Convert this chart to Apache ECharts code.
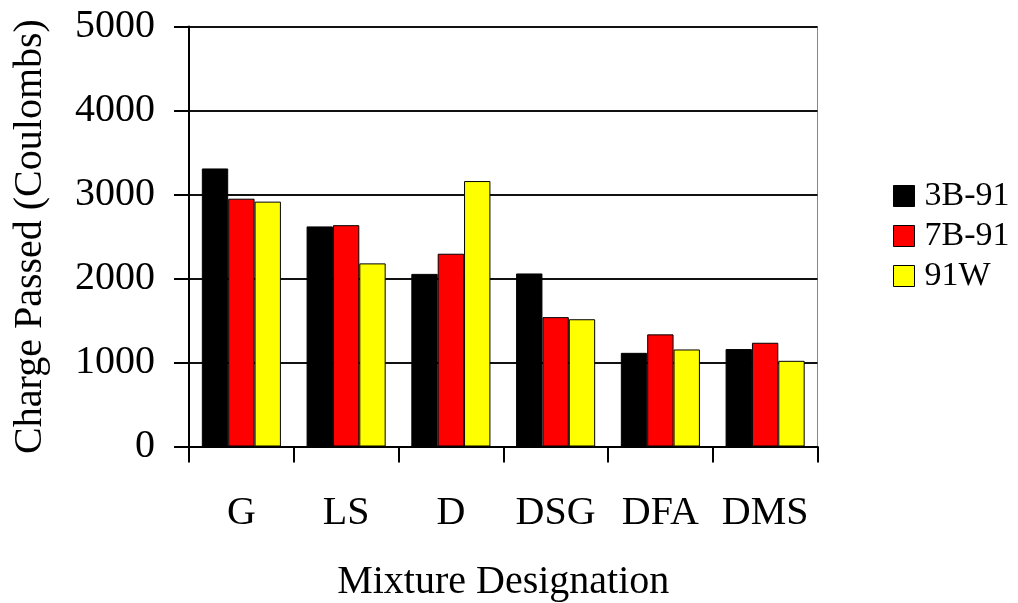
<!DOCTYPE html>
<html>
<head>
<meta charset="utf-8">
<script src="https://cdn.jsdelivr.net/npm/echarts@6/dist/echarts.min.js"></script>
<style>
  html, body { margin: 0; padding: 0; background: #fff; }
  #chart { width: 1018px; height: 603px; }
</style>
</head>
<body>
<div id="chart"></div>
<script>
// Rapid chloride permeability: charge passed per mixture and test series
const categories = ['G', 'LS', 'D', 'DSG', 'DFA', 'DMS'];
const series3B91 = [3310, 2620, 2055, 2060, 1115, 1160];
const series7B91 = [2950, 2635, 2295, 1540, 1335, 1235];
const series91W  = [2915, 2180, 3160, 1515, 1155, 1020];
const yTicks = [0, 1000, 2000, 3000, 4000, 5000];

const FONT = 'Liberation Serif';
const chart = echarts.init(document.getElementById('chart'), null, { renderer: 'canvas' });

function barSeries(name, data, color) {
  return {
    name: name,
    type: 'bar',
    data: data,
    barGap: '0%',
    barCategoryGap: '24.5%',
    itemStyle: { color: color, borderColor: '#000', borderWidth: 1 }
  };
}

chart.setOption({
  animation: false,
  backgroundColor: '#fff',
  textStyle: { fontFamily: FONT, color: '#000' },
  grid: {
    left: 189, right: 200.5, top: 26.5, bottom: 156.5,
    containLabel: false,
    outerBoundsMode: 'none',
    show: true, borderColor: '#888', borderWidth: 1, backgroundColor: 'transparent'
  },
  legend: {
    orient: 'vertical',
    left: 888,
    top: 174,
    itemWidth: 21,
    itemHeight: 21,
    itemGap: 6,
    icon: 'rect',
    itemStyle: { borderColor: '#000', borderWidth: 1 },
    textStyle: { fontFamily: FONT, fontSize: 34, color: '#000', padding: [0, 0, 0, 5] },
    data: ['3B-91', '7B-91', '91W']
  },
  xAxis: {
    type: 'category',
    data: categories,
    boundaryGap: true,
    name: 'Mixture Designation',
    nameLocation: 'middle',
    nameGap: 116,
    nameTextStyle: { fontFamily: FONT, fontSize: 40, color: '#000' },
    axisLine: { lineStyle: { color: '#000', width: 2 } },
    axisTick: { show: true, inside: false, length: 16, alignWithLabel: false, lineStyle: { color: '#000', width: 2 } },
    axisLabel: { fontFamily: FONT, fontSize: 40, color: '#000', margin: 47, interval: 0 },
    splitLine: { show: false }
  },
  yAxis: {
    type: 'value',
    min: 0,
    max: 5000,
    interval: 1000,
    name: 'Charge Passed (Coulombs)',
    nameLocation: 'middle',
    nameGap: 139,
    nameTextStyle: { fontFamily: FONT, fontSize: 40, color: '#000' },
    axisLine: { show: true, lineStyle: { color: '#000', width: 2 } },
    axisTick: { show: true, inside: false, length: 15, lineStyle: { color: '#000', width: 2 } },
    axisLabel: {
      fontFamily: FONT, fontSize: 40, color: '#000', margin: 34,
      formatter: function (v) { return yTicks.indexOf(v) >= 0 ? String(v) : ''; }
    },
    splitLine: { show: true, lineStyle: { color: '#111', width: 2 } }
  },
  series: [
    barSeries('3B-91', series3B91, '#000000'),
    barSeries('7B-91', series7B91, '#ff0000'),
    barSeries('91W', series91W, '#ffff00')
  ]
});
</script>
</body>
</html>
